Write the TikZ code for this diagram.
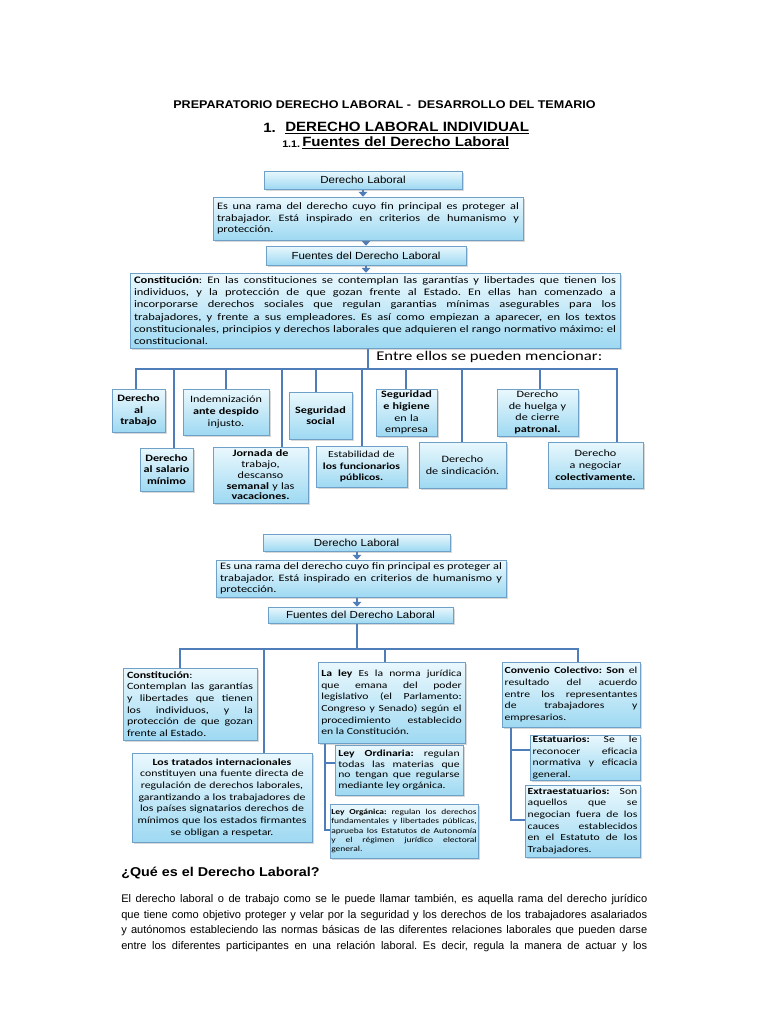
\documentclass[tikz,border=0pt]{standalone}
\usepackage{fontspec}
\setmainfont{Liberation Sans}
\newfontfamily\arf[FakeStretch=1.12]{Liberation Sans}
\newfontfamily\arn{Liberation Sans}
\newfontfamily\caf[FakeStretch=1.25]{Carlito}
\usetikzlibrary{shadows,arrows.meta,calc}
\definecolor{bxd}{RGB}{110,160,200}
\definecolor{bxt}{RGB}{234,248,253}
\definecolor{bxb}{RGB}{158,217,242}
\definecolor{cnc}{RGB}{79,125,185}
\pgfdeclarelayer{bgzero}
\pgfdeclarelayer{bgone}
\pgfsetlayers{bgzero,bgone,main}
\def\boxpad{3}
\newcommand\mybox[7][]{%
 \pgfmathsetmacro\bw{(#5-#3)*0.75}%
 \pgfmathsetmacro\bh{(#6-#4)*0.75}%
 \pgfmathsetmacro\tw{(#5-#3)*0.75-2*\boxpad}%
 \node[bx,minimum width=\bw pt,minimum height=\bh pt,text width=\tw pt,#1] (#2) at ({(#3+#5)/2},{(#4+#6)/2}) {#7};}
\tikzset{
 bx/.style={draw=bxd, line width=0.6pt, top color=bxt, bottom color=bxb,
   drop shadow={opacity=0.3,shadow xshift=1.3pt,shadow yshift=-1.3pt},
   inner xsep=\boxpad pt, inner ysep=0.5pt, align=center,
   font=\caf\fontsize{7.3}{8.8}\selectfont},
 ttl/.style={font=\arf\fontsize{7.7}{9}\selectfont},
 jst/.style={align=justify},
 cn/.style={draw=cnc, line width=2.1pt},
 ar/.style={draw=cnc, line width=1.6pt, -{Triangle[length=3.5pt,width=6.5pt]}},
}
\begin{document}
\frenchspacing
\begin{tikzpicture}[x=0.75pt,y=-0.75pt]
\begin{pgfonlayer}{bgzero}
\fill[white] (0,0) rectangle (768,1024);
\end{pgfonlayer}
\useasboundingbox (0,0) rectangle (768,1024);

% headings
\node[font=\arf\bfseries\fontsize{8.4}{10}\selectfont, inner sep=0] (hdr) at (384.5,105) {PREPARATORIO DERECHO LABORAL -\ \ DESARROLLO DEL TEMARIO};
\node[font=\arf\bfseries\fontsize{10.1}{12}\selectfont, inner sep=0, anchor=west] (t1n) at (263,128) {1.};
\node[font=\arf\bfseries\fontsize{10.1}{12}\selectfont, inner sep=0, anchor=west] (t1) at (285,128) {\underline{DERECHO LABORAL INDIVIDUAL}};
\node[font=\arf\bfseries\fontsize{7.2}{9}\selectfont, inner sep=0, anchor=west] (t2n) at (282,144) {1.1.};
\node[font=\arf\bfseries\fontsize{10.1}{12}\selectfont, inner sep=0, anchor=west] (t2) at (302,143) {\underline{Fuentes del Derecho Laboral}};

% ---------- diagram 1 ----------
\mybox[ttl]{dla}{264}{171}{462}{189}{Derecho Laboral}
\mybox[jst,font=\caf\fontsize{7.4}{8.8}\selectfont]{era}{213}{197}{523}{240}{Es una rama del derecho cuyo fin principal es proteger al\linebreak trabajador. Está inspirado en criterios de humanismo y\linebreak protección.}
\mybox[ttl]{fua}{266}{246}{466}{265}{Fuentes del Derecho Laboral}
\mybox[jst,font=\caf\fontsize{7.5}{9.2}\selectfont]{coa}{130}{273}{620}{348}{\textbf{Constitución}: En las constituciones se contemplan las garantías y libertades que tienen los\linebreak individuos, y la protección de que gozan frente al Estado. En ellas han comenzado a\linebreak incorporarse derechos sociales que regulan garantias mínimas asegurables para los\linebreak trabajadores, y frente a sus empleadores. Es así como empiezan a aparecer, en los textos\linebreak constitucionales, principios y derechos laborales que adquieren el rango normativo máximo: el\linebreak constitucional.}
\node[font=\caf\fontsize{10}{12}\selectfont, anchor=west, inner sep=0] (entre) at (376,357) {Entre ellos se pueden mencionar:};

\def\boxpad{1}
\mybox{trab}{112}{389}{165}{432}{\textbf{Derecho}\\\textbf{al}\\\textbf{trabajo}}
\mybox{sal}{140}{448}{193}{491}{\textbf{Derecho}\\\textbf{al salario}\\\textbf{mínimo}}
\mybox{ind}{183}{389}{269}{435}{Indemnización\\\textbf{ante despido}\\injusto.}
\mybox[font=\caf\fontsize{7.3}{8.1}\selectfont]{jor}{213}{447}{308}{503}{\textbf{Jornada de}\\trabajo,\\descanso\\\textbf{semanal} y las\\\textbf{vacaciones.}}
\mybox{ss}{289}{392}{352}{439}{\textbf{Seguridad}\\\textbf{social}}
\mybox[font=\caf\fontsize{7.0}{8.8}\selectfont]{est}{316}{446}{407}{487}{Estabilidad de\\\textbf{los funcionarios}\\\textbf{públicos.}}
\mybox{hig}{376}{389}{437}{436}{\textbf{Seguridad}\\\textbf{e higiene}\\en la\\empresa}
\mybox{sin}{419}{442}{506}{488}{Derecho\\de sindicación.}
\mybox{hue}{497}{389}{578}{436}{Derecho\\de huelga y\\de cierre\\\textbf{patronal.}}
\mybox{neg}{548}{442}{643}{488}{Derecho\\a negociar\\\textbf{colectivamente.}}

\coordinate (ja) at (368,369);
\coordinate (d1) at (136,369);
\coordinate (d2) at (174,369);
\coordinate (d3) at (226,369);
\coordinate (d4) at (282,369);
\coordinate (d5) at (316,369);
\coordinate (d6) at (362,369);
\coordinate (d7) at (406,369);
\coordinate (d8) at (462,369);
\coordinate (d9) at (540,369);
\coordinate (d10) at (617,369);

% ---------- diagram 2 ----------
\def\boxpad{3}
\mybox[ttl]{dlb}{263}{534}{450}{551}{Derecho Laboral}
\mybox[jst,font=\caf\fontsize{7.4}{8.8}\selectfont]{erb}{216}{560}{506}{597}{Es una rama del derecho cuyo fin principal es proteger al\linebreak trabajador. Está inspirado en criterios de humanismo y\linebreak protección.}
\mybox[ttl]{fub}{268}{607}{453}{623}{Fuentes del Derecho Laboral}

\mybox[jst,font=\caf\fontsize{7.2}{8.75}\selectfont]{cob}{123}{668}{257}{740}{\textbf{Constitución}:\\ Contemplan las garantías\linebreak y libertades que tienen\linebreak los individuos, y la\linebreak protección de que gozan\linebreak frente al Estado.}
\mybox[font=\caf\fontsize{7.1}{8.75}\selectfont]{trb}{132}{753}{312}{842}{\textbf{Los tratados internacionales}\\constituyen una fuente directa de\\regulación de derechos laborales,\\garantizando a los trabajadores de\\los países signatarios derechos de\\mínimos que los estados firmantes\\se obligan a respetar.}
\def\boxpad{2.5}
\mybox[jst,font=\caf\fontsize{7.0}{8.75}\selectfont]{ley}{318}{662}{465}{743}{\textbf{La ley} Es la norma jurídica\linebreak que emana del poder\linebreak legislativo (el Parlamento:\linebreak Congreso y Senado) según el\linebreak procedimiento establecido\linebreak en la Constitución.}
\mybox[jst,font=\caf\fontsize{7.0}{8.2}\selectfont]{ord}{335}{745}{463}{795}{\textbf{Ley Ordinaria:} regulan\linebreak todas las materias que\linebreak no tengan que regularse\linebreak mediante ley orgánica.}
\def\boxpad{1}
\mybox[jst,font=\caf\fontsize{5.7}{6.9}\selectfont]{org}{330}{804}{478}{858}{\textbf{Ley Orgánica:} regulan los derechos\linebreak fundamentales y libertades públicas,\linebreak aprueba los Estatutos de Autonomía\linebreak y el régimen jurídico electoral\linebreak general.}
\def\boxpad{2}
\mybox[jst,font=\caf\fontsize{7.0}{8.75}\selectfont]{cvb}{502}{662}{640}{727}{\textbf{Convenio Colectivo: Son} el\linebreak resultado del acuerdo\linebreak entre los representantes\linebreak de trabajadores y\linebreak empresarios.}
\mybox[jst,font=\caf\fontsize{7.0}{8.75}\selectfont]{esb}{530}{735}{640}{780}{\textbf{Estatuarios:} Se le\linebreak reconocer eficacia\linebreak normativa y eficacia\linebreak general.}
\mybox[jst,font=\caf\fontsize{7.0}{8.75}\selectfont]{exb}{525}{785}{640}{857}{\textbf{Extraestatuarios:} Son\linebreak aquellos que se\linebreak negocian fuera de los\linebreak cauces establecidos\linebreak en el Estatuto de los\linebreak Trabajadores.}

\coordinate (jb) at (357,649);
\coordinate (e1) at (180,649);
\coordinate (e2) at (264,649);
\coordinate (e3) at (385,649);
\coordinate (e4) at (578,649);
\coordinate (l1) at (325,763);
\coordinate (l2) at (325,830);
\coordinate (k1) at (511,750);
\coordinate (k2) at (511,820);

\begin{pgfonlayer}{bgone}
% diagram 1 connectors
\draw[ar] (dla.south) -- (dla.south |- era.north);
\draw[ar] (fua.north |- era.south) -- (fua.north);
\draw[ar] (fua.south) -- (fua.south |- coa.north);
\draw[cn] (coa.south -| ja) -- (ja);
\draw[cn] (trab.north -| d1) |- (d10) -- (d10 |- neg.north);
\draw[cn] (d2) -- (d2 |- sal.north);
\draw[cn] (d3) -- (d3 |- ind.north);
\draw[cn] (d4) -- (d4 |- jor.north);
\draw[cn] (d5) -- (d5 |- ss.north);
\draw[cn] (d6) -- (d6 |- est.north);
\draw[cn] (d7) -- (d7 |- hig.north);
\draw[cn] (d8) -- (d8 |- sin.north);
\draw[cn] (d9) -- (d9 |- hue.north);
% diagram 2 connectors
\draw[ar] (dlb.south -| jb) -- (jb |- erb.north);
\draw[ar] (erb.south -| jb) -- (jb |- fub.north);
\draw[cn] (fub.south -| jb) -- (jb);
\draw[cn] (cob.north -| e1) |- (e4) -- (e4 |- cvb.north);
\draw[cn] (e2) -- (e2 |- trb.north);
\draw[cn] (e3) -- (e3 |- ley.north);
\draw[cn] (ley.south -| l2) -- (l2) -- (l2 -| org.west);
\draw[cn] (l1) -- (l1 -| ord.west);
\draw[cn] (cvb.south -| k2) -- (k2) -- (k2 -| exb.west);
\draw[cn] (k1) -- (k1 -| esb.west);
\end{pgfonlayer}

% bottom text
\node[anchor=west, font=\arf\bfseries\fontsize{9.6}{11}\selectfont, inner sep=0] (q) at (121,873) {¿Qué es el Derecho Laboral?};
\node[anchor=north west, inner sep=0, text width=394.5pt, align=justify, font=\arn\fontsize{8.3}{11.7}\selectfont] (par) at (121,894) {El derecho laboral o de trabajo como se le puede llamar también, es aquella rama del derecho jurídico\linebreak que tiene como objetivo proteger y velar por la seguridad y los derechos de los trabajadores asalariados\linebreak y autónomos estableciendo las normas básicas de las diferentes relaciones laborales que pueden darse\linebreak entre los diferentes participantes en una relación laboral. Es decir, regula la manera de actuar y los\linebreak};
\end{tikzpicture}
\end{document}
